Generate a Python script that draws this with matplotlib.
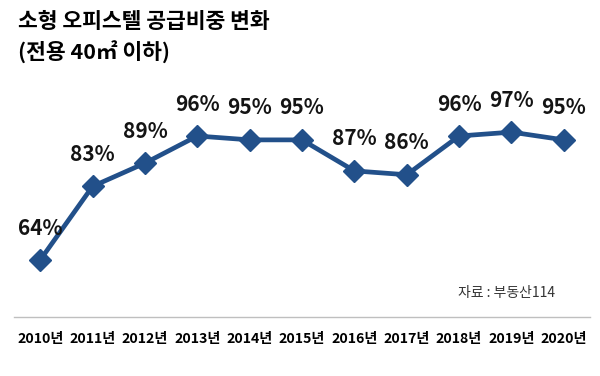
import matplotlib.pyplot as plt

plt.rcParams['font.family'] = ['Noto Sans CJK KR', 'DejaVu Sans']

years = ['2010년', '2011년', '2012년', '2013년', '2014년', '2015년',
         '2016년', '2017년', '2018년', '2019년', '2020년']
share = [64, 83, 89, 96, 95, 95, 87, 86, 96, 97, 95]

line_color = '#22508a'

fig = plt.figure(figsize=(6, 3.76), dpi=100)
ax = fig.add_axes([14 / 600, 1 - 317 / 376, 576 / 600, (317 - 120.5) / 376])

x = list(range(len(years)))
ax.plot(x, share, color=line_color, linewidth=3.4, marker='D',
        markersize=11, markerfacecolor=line_color, markeredgecolor=line_color)

for xi, v in zip(x, share):
    ax.annotate(f'{v}%', (xi, v), xytext=(0, 23), textcoords='offset points',
                ha='center', va='center', fontsize=15, fontweight='bold',
                color='#141414')

ax.set_xlim(-0.5, len(years) - 0.5)
ax.set_ylim(49.3, 100)
ax.set_xticks(x)
ax.set_xticklabels(years, fontsize=10.2, fontweight='bold')
ax.tick_params(axis='x', length=0, pad=11)
ax.set_yticks([])
for side in ['top', 'right', 'left']:
    ax.spines[side].set_visible(False)
ax.spines['bottom'].set_color('#bfbfbf')
ax.spines['bottom'].set_linewidth(1)

fig.text(18 / 600, 1 - 22 / 376, '소형 오피스텔 공급비중 변화', fontsize=15.5,
         fontweight='bold', va='center', ha='left')
fig.text(18 / 600, 1 - 52 / 376, '(전용 40㎡ 이하)', fontsize=15.5,
         fontweight='bold', va='center', ha='left')
fig.text(555 / 600, 1 - 293 / 376, '자료 : 부동산114', fontsize=10,
         va='center', ha='right', color='#333333')

fig.savefig('out.png', dpi=100)
